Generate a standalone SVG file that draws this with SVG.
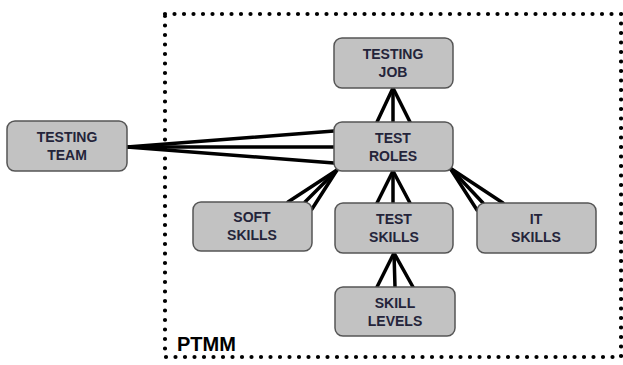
<svg xmlns="http://www.w3.org/2000/svg" width="623" height="365" viewBox="0 0 623 365">
<style>
.node rect{fill:#c2c2c2;stroke:#555;stroke-width:1.5}
.node text{font-family:"Liberation Sans",Arial,sans-serif;font-weight:bold;font-size:14px;fill:#24243a;text-anchor:middle}
#connectors line{stroke:#000;stroke-width:3.5;stroke-linecap:round}
</style>
<rect x="165" y="14" width="456" height="343" fill="none" stroke="#000" stroke-width="4.2" stroke-dasharray="0 9.5" stroke-linecap="round"/>
<text x="177" y="351" font-family="'Liberation Sans',Arial,sans-serif" font-weight="bold" font-size="20" fill="#000">PTMM</text>
<g id="connectors">
<line x1="127" y1="147" x2="334" y2="131"/>
<line x1="127" y1="147" x2="334" y2="147"/>
<line x1="127" y1="147" x2="334" y2="163"/>
<line x1="393" y1="88" x2="377" y2="122"/>
<line x1="393" y1="88" x2="393" y2="122"/>
<line x1="393" y1="88" x2="410" y2="122"/>
<line x1="337" y1="170" x2="288" y2="202"/>
<line x1="337" y1="170" x2="305" y2="202"/>
<line x1="337" y1="170" x2="312" y2="209"/>
<line x1="393" y1="171" x2="377" y2="203"/>
<line x1="393" y1="171" x2="393" y2="203"/>
<line x1="393" y1="171" x2="410" y2="203"/>
<line x1="450" y1="168" x2="477" y2="210"/>
<line x1="450" y1="168" x2="483" y2="203"/>
<line x1="450" y1="168" x2="503" y2="203"/>
<line x1="394" y1="253" x2="377" y2="287"/>
<line x1="394" y1="253" x2="395" y2="287"/>
<line x1="394" y1="253" x2="413" y2="287"/>
</g>
<g id="testing-team" class="node"><rect x="7" y="121" width="120" height="50" rx="8"/><text x="67" y="142">TESTING</text><text x="67" y="160">TEAM</text></g>
<g id="testing-job" class="node"><rect x="334" y="38" width="119" height="50" rx="8"/><text x="393" y="59">TESTING</text><text x="393" y="77">JOB</text></g>
<g id="test-roles" class="node"><rect x="334" y="122" width="119" height="49" rx="8"/><text x="393" y="143">TEST</text><text x="393" y="161">ROLES</text></g>
<g id="soft-skills" class="node"><rect x="193" y="202" width="119" height="49" rx="8"/><text x="252" y="222">SOFT</text><text x="252" y="240">SKILLS</text></g>
<g id="test-skills" class="node"><rect x="335" y="203" width="118" height="50" rx="8"/><text x="394" y="224">TEST</text><text x="394" y="242">SKILLS</text></g>
<g id="it-skills" class="node"><rect x="477" y="203" width="119" height="50" rx="8"/><text x="536" y="224">IT</text><text x="536" y="242">SKILLS</text></g>
<g id="skill-levels" class="node"><rect x="335" y="287" width="120" height="49" rx="8"/><text x="395" y="308">SKILL</text><text x="395" y="326">LEVELS</text></g>
</svg>
